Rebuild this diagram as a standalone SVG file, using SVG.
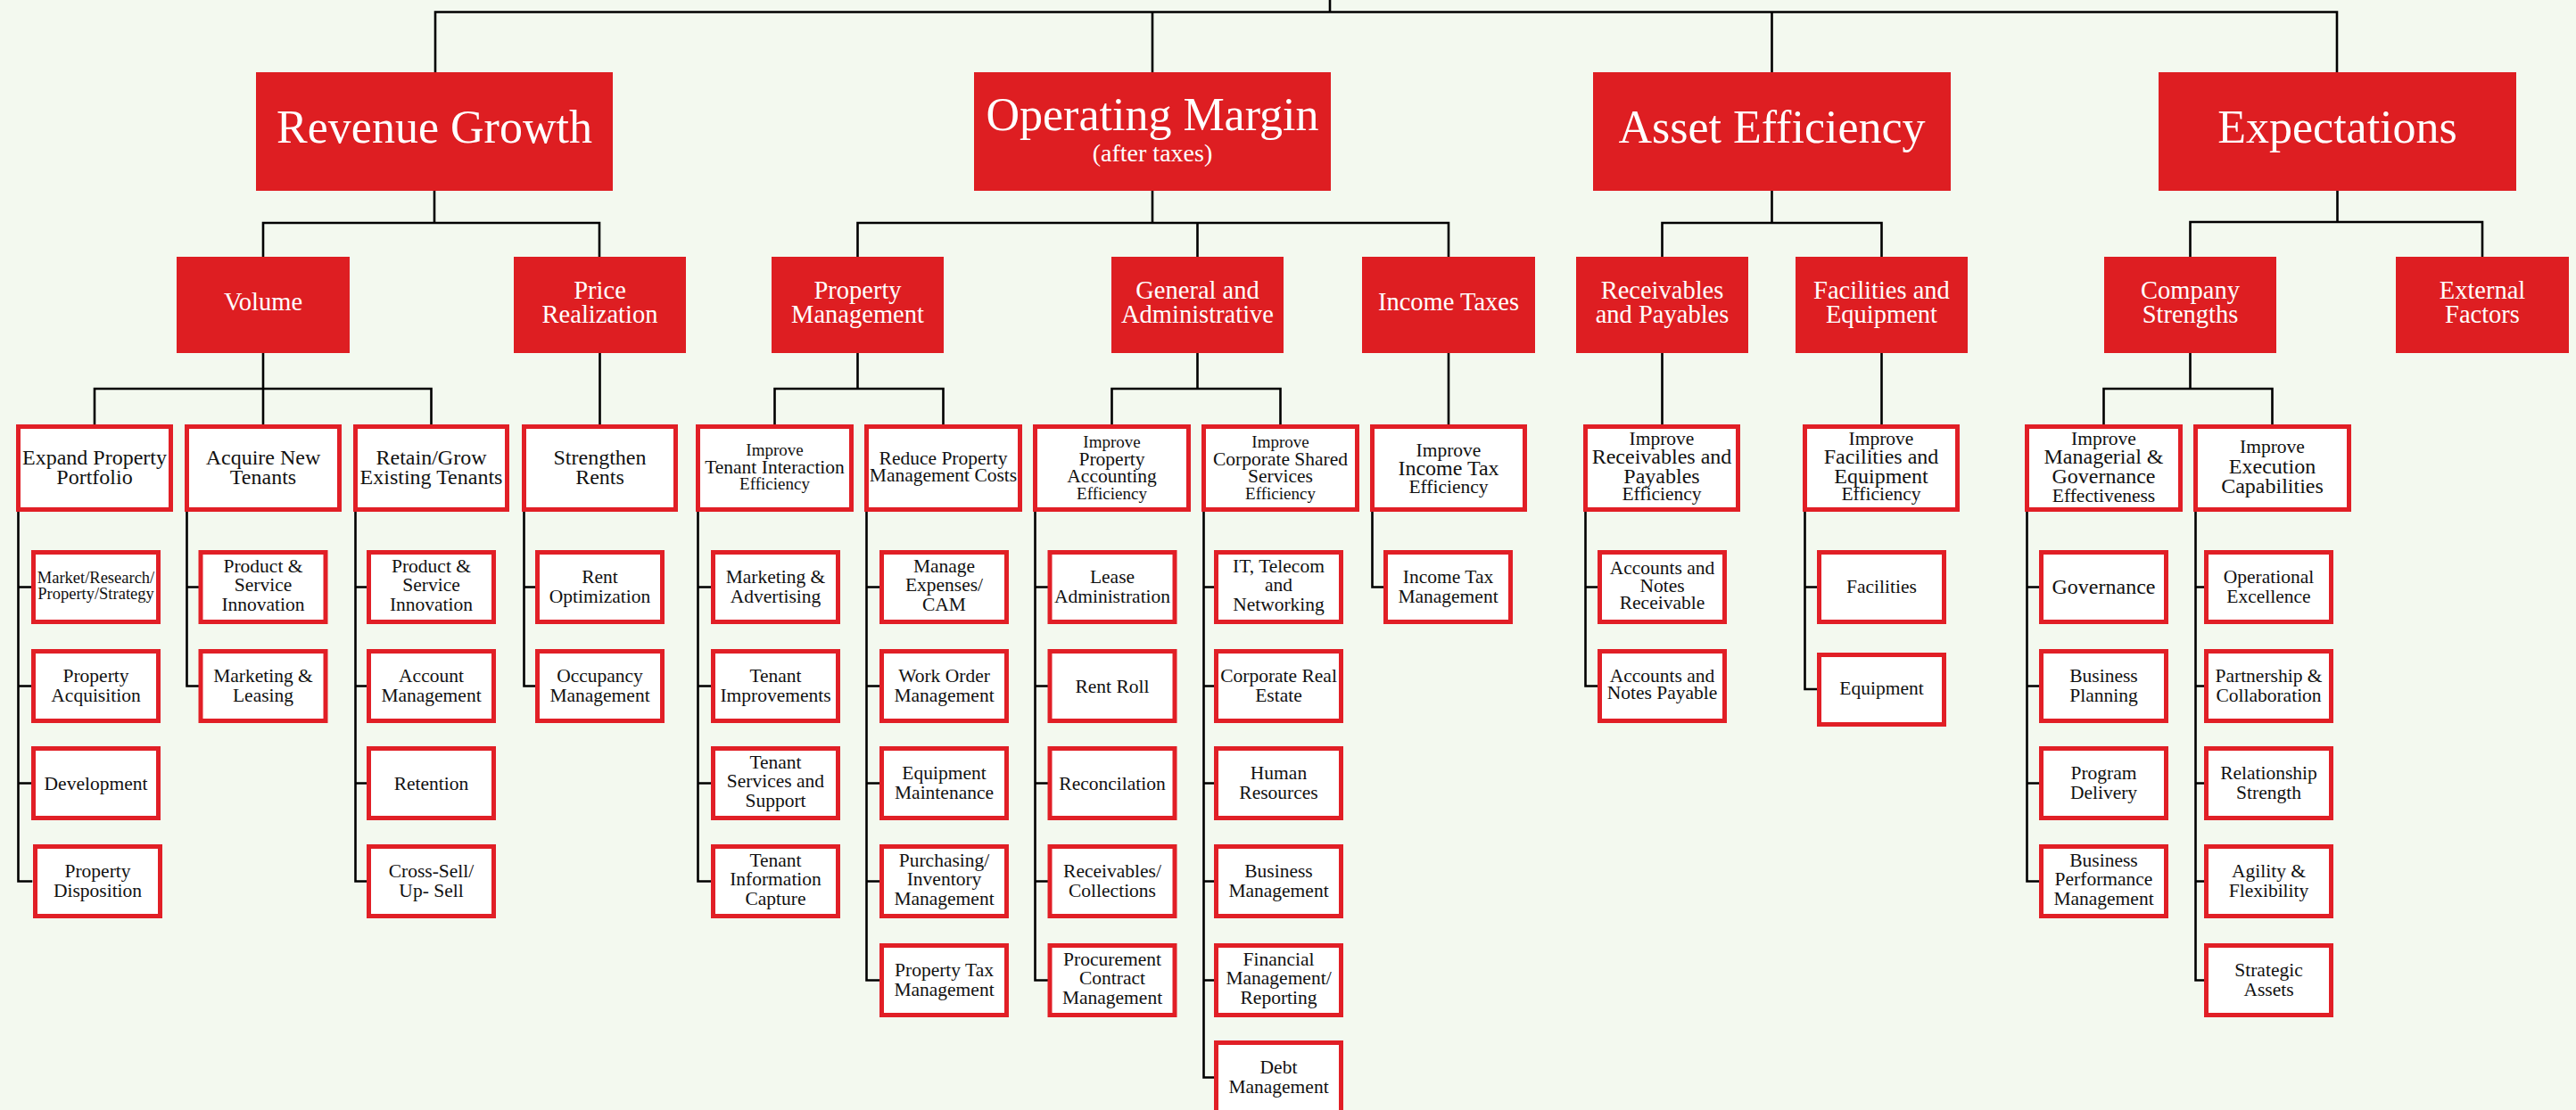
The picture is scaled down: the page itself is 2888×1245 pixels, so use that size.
<svg xmlns="http://www.w3.org/2000/svg" width="2888" height="1245" viewBox="0 0 2888 1245">
<style>
text{font-family:"Liberation Serif","Times New Roman",serif;text-anchor:middle}
.red{fill:#DE1E22}
.box{fill:#fff;stroke:#E11F26;stroke-width:5}
.c{stroke:#000;stroke-width:2.6;fill:none;stroke-linecap:square}
.h1{font-size:52px;fill:#fff}
.h1s{font-size:28px;fill:#fff}
.h2{font-size:28.5px;fill:#fff}
.f24{font-size:24px;fill:#111}
.f21{font-size:21.5px;fill:#111}
.f19{font-size:19px;fill:#111}
.f18{font-size:18.5px;fill:#111}
</style>
<rect width="2888" height="1245" fill="#F3F9EF"/>
<g id="connectors">
<path class="c" d="M1491 0V13.5M488 81V13.5H2620V81M1292 13.5V81M1986.5 13.5V81"/>
<path class="c" d="M487 214V250M295 288V250H672V288M1292 214V250M961.5 288V250H1624V288M1342.5 250V288M1986.5 214V250M1863.5 288V250H2109.5V288M2620.5 214V249M2455.5 288V249H2783V288"/>
<path class="c" d="M295 396V476M106 476V436H483.5V476M672.5 396V476M961.5 396V436M868.5 476V436H1057.5V476M1342.5 396V436M1246.5 476V436H1435.5V476M1624 396V476M1863.5 396V476M2109.5 396V476M2455.5 396V436M2358.5 476V436H2547.5V476"/>
<path class="c" d="M20.5 574V988.5M20.5 658.5H35M20.5 769.5H35M20.5 878.5H35M20.5 988.5H35"/>
<path class="c" d="M209.5 574V769.5M209.5 658.5H222.5M209.5 769.5H222.5"/>
<path class="c" d="M398.5 574V988.5M398.5 658.5H411M398.5 769.5H411M398.5 878.5H411M398.5 988.5H411"/>
<path class="c" d="M587.5 574V769.5M587.5 658.5H600M587.5 769.5H600"/>
<path class="c" d="M782.5 574V988.5M782.5 658.5H797M782.5 769.5H797M782.5 878.5H797M782.5 988.5H797"/>
<path class="c" d="M971.5 574V1099.5M971.5 658.5H986M971.5 769.5H986M971.5 878.5H986M971.5 988.5H986M971.5 1099.5H986"/>
<path class="c" d="M1160.5 574V1099.5M1160.5 658.5H1174.5M1160.5 769.5H1174.5M1160.5 878.5H1174.5M1160.5 988.5H1174.5M1160.5 1099.5H1174.5"/>
<path class="c" d="M1349.5 574V1208.5M1349.5 658.5H1361M1349.5 769.5H1361M1349.5 878.5H1361M1349.5 988.5H1361M1349.5 1099.5H1361M1349.5 1208.5H1361"/>
<path class="c" d="M1538.5 574V658.5H1551"/>
<path class="c" d="M1777.5 574V769.5M1777.5 658.5H1791M1777.5 769.5H1791"/>
<path class="c" d="M2023.5 574V773M2023.5 658.5H2037M2023.5 773H2037"/>
<path class="c" d="M2272.5 574V988.5M2272.5 658.5H2286M2272.5 769.5H2286M2272.5 878.5H2286M2272.5 988.5H2286"/>
<path class="c" d="M2461.5 574V1099.5M2461.5 658.5H2471M2461.5 769.5H2471M2461.5 878.5H2471M2461.5 988.5H2471M2461.5 1099.5H2471"/>
</g>

<g id="revenue-growth"><rect class="red" x="287" y="81" width="400" height="133"/><text class="h1" x="487" y="160">Revenue Growth</text></g>
<g id="operating-margin"><rect class="red" x="1092" y="81" width="400" height="133"/><text class="h1" x="1292" y="146">Operating Margin</text><text class="h1s" x="1292" y="181">(after taxes)</text></g>
<g id="asset-efficiency"><rect class="red" x="1786" y="81" width="401" height="133"/><text class="h1" x="1986.5" y="160">Asset Efficiency</text></g>
<g id="expectations"><rect class="red" x="2420" y="81" width="401" height="133"/><text class="h1" x="2620.5" y="160">Expectations</text></g>

<g id="volume"><rect class="red" x="198" y="288" width="194" height="108"/><text class="h2" x="295" y="348">Volume</text></g>
<g id="price-realization"><rect class="red" x="576" y="288" width="193" height="108"/><text class="h2"><tspan x="672.5" y="335">Price</tspan><tspan x="672.5" y="362">Realization</tspan></text></g>
<g id="property-management"><rect class="red" x="865" y="288" width="193" height="108"/><text class="h2"><tspan x="961.5" y="335">Property</tspan><tspan x="961.5" y="362">Management</tspan></text></g>
<g id="general-administrative"><rect class="red" x="1246" y="288" width="193" height="108"/><text class="h2"><tspan x="1342.5" y="335">General and</tspan><tspan x="1342.5" y="362">Administrative</tspan></text></g>
<g id="income-taxes"><rect class="red" x="1527" y="288" width="194" height="108"/><text class="h2" x="1624" y="348">Income Taxes</text></g>
<g id="receivables-payables"><rect class="red" x="1767" y="288" width="193" height="108"/><text class="h2"><tspan x="1863.5" y="335">Receivables</tspan><tspan x="1863.5" y="362">and Payables</tspan></text></g>
<g id="facilities-equipment"><rect class="red" x="2013" y="288" width="193" height="108"/><text class="h2"><tspan x="2109.5" y="335">Facilities and</tspan><tspan x="2109.5" y="362">Equipment</tspan></text></g>
<g id="company-strengths"><rect class="red" x="2359" y="288" width="193" height="108"/><text class="h2"><tspan x="2455.5" y="335">Company</tspan><tspan x="2455.5" y="362">Strengths</tspan></text></g>
<g id="external-factors"><rect class="red" x="2686" y="288" width="194" height="108"/><text class="h2"><tspan x="2783" y="335">External</tspan><tspan x="2783" y="362">Factors</tspan></text></g>

<g id="expand-property-portfolio"><rect class="box" x="20.5" y="478.5" width="171" height="93"/><text class="f24"><tspan x="106" y="521">Expand Property</tspan><tspan x="106" y="542.5">Portfolio</tspan></text></g>
<g id="acquire-new-tenants"><rect class="box" x="209.5" y="478.5" width="171" height="93"/><text class="f24"><tspan x="295" y="521">Acquire New</tspan><tspan x="295" y="542.5">Tenants</tspan></text></g>
<g id="retain-grow"><rect class="box" x="398.5" y="478.5" width="170" height="93"/><text class="f24"><tspan x="483.5" y="521">Retain/Grow</tspan><tspan x="483.5" y="542.5">Existing Tenants</tspan></text></g>
<g id="strengthen-rents"><rect class="box" x="587.5" y="478.5" width="170" height="93"/><text class="f24"><tspan x="672.5" y="521">Strengthen</tspan><tspan x="672.5" y="542.5">Rents</tspan></text></g>
<g id="improve-tenant-interaction"><rect class="box" x="782.5" y="478.5" width="172" height="93"/><text class="f19" x="868.5" y="511">Improve</text><text class="f21" x="868.5" y="530.5">Tenant Interaction</text><text class="f19" x="868.5" y="549">Efficiency</text></g>
<g id="reduce-property-costs"><rect class="box" x="971.5" y="478.5" width="172" height="93"/><text class="f21"><tspan x="1057.5" y="521">Reduce Property</tspan><tspan x="1057.5" y="540">Management Costs</tspan></text></g>
<g id="improve-property-accounting"><rect class="box" x="1160.5" y="478.5" width="172" height="93"/><text class="f19" x="1246.5" y="501.5">Improve</text><text class="f21"><tspan x="1246.5" y="522">Property</tspan><tspan x="1246.5" y="541">Accounting</tspan></text><text class="f19" x="1246.5" y="559.5">Efficiency</text></g>
<g id="improve-shared-services"><rect class="box" x="1349.5" y="478.5" width="172" height="93"/><text class="f19" x="1435.5" y="501.5">Improve</text><text class="f21"><tspan x="1435.5" y="522">Corporate Shared</tspan><tspan x="1435.5" y="541">Services</tspan></text><text class="f19" x="1435.5" y="559.5">Efficiency</text></g>
<g id="improve-income-tax"><rect class="box" x="1538.5" y="478.5" width="171" height="93"/><text class="f21" x="1624" y="512">Improve</text><text class="f24" x="1624" y="533">Income Tax</text><text class="f21" x="1624" y="552.5">Efficiency</text></g>
<g id="improve-receivables-payables"><rect class="box" x="1777.5" y="478.5" width="171" height="93"/><text class="f21" x="1863" y="499">Improve</text><text class="f24"><tspan x="1863" y="520">Receivables and</tspan><tspan x="1863" y="542">Payables</tspan></text><text class="f21" x="1863" y="561">Efficiency</text></g>
<g id="improve-facilities-equipment"><rect class="box" x="2023.5" y="478.5" width="171" height="93"/><text class="f21" x="2109" y="499">Improve</text><text class="f24"><tspan x="2109" y="520">Facilities and</tspan><tspan x="2109" y="542">Equipment</tspan></text><text class="f21" x="2109" y="561">Efficiency</text></g>
<g id="improve-managerial-governance"><rect class="box" x="2272.5" y="478.5" width="172" height="93"/><text class="f21" x="2358.5" y="498.5">Improve</text><text class="f24"><tspan x="2358.5" y="520">Managerial &amp;</tspan><tspan x="2358.5" y="542">Governance</tspan></text><text class="f21" x="2358.5" y="562.5">Effectiveness</text></g>
<g id="improve-execution"><rect class="box" x="2461.5" y="478.5" width="172" height="93"/><text class="f21" x="2547.5" y="508">Improve</text><text class="f24"><tspan x="2547.5" y="530.5">Execution</tspan><tspan x="2547.5" y="553">Capabilities</tspan></text></g>

<g id="market-research"><rect class="box" x="37.5" y="619.5" width="140" height="78"/><text class="f18"><tspan x="107.5" y="654">Market/Research/</tspan><tspan x="107.5" y="672">Property/Strategy</tspan></text></g>
<g id="property-acquisition"><rect class="box" x="37.5" y="730.5" width="140" height="78"/><text class="f21"><tspan x="107.5" y="764.5">Property</tspan><tspan x="107.5" y="786.5">Acquisition</tspan></text></g>
<g id="development"><rect class="box" x="37.5" y="839.5" width="140" height="78"/><text class="f21" x="107.5" y="885.5">Development</text></g>
<g id="property-disposition"><rect class="box" x="39.5" y="949.5" width="140" height="78"/><text class="f21"><tspan x="109.5" y="983.5">Property</tspan><tspan x="109.5" y="1005.5">Disposition</tspan></text></g>

<g id="acq-product-service"><rect class="box" x="225" y="619.5" width="140" height="78"/><text class="f21"><tspan x="295" y="641.5">Product &amp;</tspan><tspan x="295" y="663">Service</tspan><tspan x="295" y="684.5">Innovation</tspan></text></g>
<g id="marketing-leasing"><rect class="box" x="225" y="730.5" width="140" height="78"/><text class="f21"><tspan x="295" y="764.5">Marketing &amp;</tspan><tspan x="295" y="786.5">Leasing</tspan></text></g>

<g id="ret-product-service"><rect class="box" x="413.5" y="619.5" width="140" height="78"/><text class="f21"><tspan x="483.5" y="641.5">Product &amp;</tspan><tspan x="483.5" y="663">Service</tspan><tspan x="483.5" y="684.5">Innovation</tspan></text></g>
<g id="account-management"><rect class="box" x="413.5" y="730.5" width="140" height="78"/><text class="f21"><tspan x="483.5" y="764.5">Account</tspan><tspan x="483.5" y="786.5">Management</tspan></text></g>
<g id="retention"><rect class="box" x="413.5" y="839.5" width="140" height="78"/><text class="f21" x="483.5" y="885.5">Retention</text></g>
<g id="cross-sell"><rect class="box" x="413.5" y="949.5" width="140" height="78"/><text class="f21"><tspan x="483.5" y="983.5">Cross-Sell/</tspan><tspan x="483.5" y="1005.5">Up- Sell</tspan></text></g>

<g id="rent-optimization"><rect class="box" x="602.5" y="619.5" width="140" height="78"/><text class="f21"><tspan x="672.5" y="653.5">Rent</tspan><tspan x="672.5" y="675.5">Optimization</tspan></text></g>
<g id="occupancy-management"><rect class="box" x="602.5" y="730.5" width="140" height="78"/><text class="f21"><tspan x="672.5" y="764.5">Occupancy</tspan><tspan x="672.5" y="786.5">Management</tspan></text></g>

<g id="marketing-advertising"><rect class="box" x="799.5" y="619.5" width="140" height="78"/><text class="f21"><tspan x="869.5" y="653.5">Marketing &amp;</tspan><tspan x="869.5" y="675.5">Advertising</tspan></text></g>
<g id="tenant-improvements"><rect class="box" x="799.5" y="730.5" width="140" height="78"/><text class="f21"><tspan x="869.5" y="764.5">Tenant</tspan><tspan x="869.5" y="786.5">Improvements</tspan></text></g>
<g id="tenant-services"><rect class="box" x="799.5" y="839.5" width="140" height="78"/><text class="f21"><tspan x="869.5" y="861.5">Tenant</tspan><tspan x="869.5" y="883">Services and</tspan><tspan x="869.5" y="904.5">Support</tspan></text></g>
<g id="tenant-information"><rect class="box" x="799.5" y="949.5" width="140" height="78"/><text class="f21"><tspan x="869.5" y="971.5">Tenant</tspan><tspan x="869.5" y="993">Information</tspan><tspan x="869.5" y="1014.5">Capture</tspan></text></g>

<g id="manage-expenses"><rect class="box" x="988.5" y="619.5" width="140" height="78"/><text class="f21"><tspan x="1058.5" y="641.5">Manage</tspan><tspan x="1058.5" y="663">Expenses/</tspan><tspan x="1058.5" y="684.5">CAM</tspan></text></g>
<g id="work-order"><rect class="box" x="988.5" y="730.5" width="140" height="78"/><text class="f21"><tspan x="1058.5" y="764.5">Work Order</tspan><tspan x="1058.5" y="786.5">Management</tspan></text></g>
<g id="equipment-maintenance"><rect class="box" x="988.5" y="839.5" width="140" height="78"/><text class="f21"><tspan x="1058.5" y="873.5">Equipment</tspan><tspan x="1058.5" y="895.5">Maintenance</tspan></text></g>
<g id="purchasing-inventory"><rect class="box" x="988.5" y="949.5" width="140" height="78"/><text class="f21"><tspan x="1058.5" y="971.5">Purchasing/</tspan><tspan x="1058.5" y="993">Inventory</tspan><tspan x="1058.5" y="1014.5">Management</tspan></text></g>
<g id="property-tax"><rect class="box" x="988.5" y="1060.5" width="140" height="78"/><text class="f21"><tspan x="1058.5" y="1094.5">Property Tax</tspan><tspan x="1058.5" y="1116.5">Management</tspan></text></g>

<g id="lease-administration"><rect class="box" x="1177" y="619.5" width="140" height="78"/><text class="f21"><tspan x="1247" y="653.5">Lease</tspan><tspan x="1247" y="675.5">Administration</tspan></text></g>
<g id="rent-roll"><rect class="box" x="1177" y="730.5" width="140" height="78"/><text class="f21" x="1247" y="776.5">Rent Roll</text></g>
<g id="reconcilation"><rect class="box" x="1177" y="839.5" width="140" height="78"/><text class="f21" x="1247" y="885.5">Reconcilation</text></g>
<g id="receivables-collections"><rect class="box" x="1177" y="949.5" width="140" height="78"/><text class="f21"><tspan x="1247" y="983.5">Receivables/</tspan><tspan x="1247" y="1005.5">Collections</tspan></text></g>
<g id="procurement-contract"><rect class="box" x="1177" y="1060.5" width="140" height="78"/><text class="f21"><tspan x="1247" y="1082.5">Procurement</tspan><tspan x="1247" y="1104">Contract</tspan><tspan x="1247" y="1125.5">Management</tspan></text></g>

<g id="it-telecom"><rect class="box" x="1363.5" y="619.5" width="140" height="78"/><text class="f21"><tspan x="1433.5" y="641.5">IT, Telecom</tspan><tspan x="1433.5" y="663">and</tspan><tspan x="1433.5" y="684.5">Networking</tspan></text></g>
<g id="corporate-real-estate"><rect class="box" x="1363.5" y="730.5" width="140" height="78"/><text class="f21"><tspan x="1433.5" y="764.5">Corporate Real</tspan><tspan x="1433.5" y="786.5">Estate</tspan></text></g>
<g id="human-resources"><rect class="box" x="1363.5" y="839.5" width="140" height="78"/><text class="f21"><tspan x="1433.5" y="873.5">Human</tspan><tspan x="1433.5" y="895.5">Resources</tspan></text></g>
<g id="business-management"><rect class="box" x="1363.5" y="949.5" width="140" height="78"/><text class="f21"><tspan x="1433.5" y="983.5">Business</tspan><tspan x="1433.5" y="1005.5">Management</tspan></text></g>
<g id="financial-management"><rect class="box" x="1363.5" y="1060.5" width="140" height="78"/><text class="f21"><tspan x="1433.5" y="1082.5">Financial</tspan><tspan x="1433.5" y="1104">Management/</tspan><tspan x="1433.5" y="1125.5">Reporting</tspan></text></g>
<g id="debt-management"><rect class="box" x="1363.5" y="1169.5" width="140" height="80"/><text class="f21"><tspan x="1433.5" y="1203.5">Debt</tspan><tspan x="1433.5" y="1225.5">Management</tspan></text></g>

<g id="income-tax-management"><rect class="box" x="1553.5" y="619.5" width="140" height="78"/><text class="f21"><tspan x="1623.5" y="653.5">Income Tax</tspan><tspan x="1623.5" y="675.5">Management</tspan></text></g>

<g id="accounts-notes-receivable"><rect class="box" x="1793.5" y="619.5" width="140" height="78"/><text class="f21"><tspan x="1863.5" y="644">Accounts and</tspan><tspan x="1863.5" y="664">Notes</tspan><tspan x="1863.5" y="683">Receivable</tspan></text></g>
<g id="accounts-notes-payable"><rect class="box" x="1793.5" y="730.5" width="140" height="78"/><text class="f21"><tspan x="1863.5" y="765">Accounts and</tspan><tspan x="1863.5" y="784">Notes Payable</tspan></text></g>

<g id="facilities"><rect class="box" x="2039.5" y="619.5" width="140" height="78"/><text class="f21" x="2109.5" y="665">Facilities</text></g>
<g id="equipment"><rect class="box" x="2039.5" y="734.5" width="140" height="78"/><text class="f21" x="2109.5" y="779">Equipment</text></g>

<g id="governance"><rect class="box" x="2288.5" y="619.5" width="140" height="78"/><text class="f24" x="2358.5" y="666">Governance</text></g>
<g id="business-planning"><rect class="box" x="2288.5" y="730.5" width="140" height="78"/><text class="f21"><tspan x="2358.5" y="764.5">Business</tspan><tspan x="2358.5" y="786.5">Planning</tspan></text></g>
<g id="program-delivery"><rect class="box" x="2288.5" y="839.5" width="140" height="78"/><text class="f21"><tspan x="2358.5" y="873.5">Program</tspan><tspan x="2358.5" y="895.5">Delivery</tspan></text></g>
<g id="business-performance"><rect class="box" x="2288.5" y="949.5" width="140" height="78"/><text class="f21"><tspan x="2358.5" y="971.5">Business</tspan><tspan x="2358.5" y="993">Performance</tspan><tspan x="2358.5" y="1014.5">Management</tspan></text></g>

<g id="operational-excellence"><rect class="box" x="2473.5" y="619.5" width="140" height="78"/><text class="f21"><tspan x="2543.5" y="653.5">Operational</tspan><tspan x="2543.5" y="675.5">Excellence</tspan></text></g>
<g id="partnership-collaboration"><rect class="box" x="2473.5" y="730.5" width="140" height="78"/><text class="f21"><tspan x="2543.5" y="764.5">Partnership &amp;</tspan><tspan x="2543.5" y="786.5">Collaboration</tspan></text></g>
<g id="relationship-strength"><rect class="box" x="2473.5" y="839.5" width="140" height="78"/><text class="f21"><tspan x="2543.5" y="873.5">Relationship</tspan><tspan x="2543.5" y="895.5">Strength</tspan></text></g>
<g id="agility-flexibility"><rect class="box" x="2473.5" y="949.5" width="140" height="78"/><text class="f21"><tspan x="2543.5" y="983.5">Agility &amp;</tspan><tspan x="2543.5" y="1005.5">Flexibility</tspan></text></g>
<g id="strategic-assets"><rect class="box" x="2473.5" y="1060.5" width="140" height="78"/><text class="f21"><tspan x="2543.5" y="1094.5">Strategic</tspan><tspan x="2543.5" y="1116.5">Assets</tspan></text></g>
</svg>
